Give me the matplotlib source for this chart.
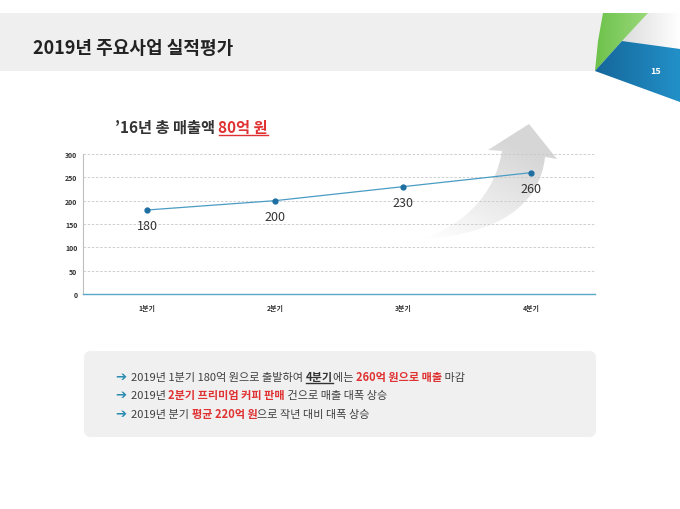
import matplotlib
matplotlib.use("Agg")
import matplotlib.pyplot as plt
import numpy as np
from matplotlib.patches import Polygon, FancyBboxPatch, PathPatch, Rectangle
from matplotlib.path import Path

plt.rcParams["font.family"] = ["Noto Sans CJK KR", "DejaVu Sans"]

quarters = ["1분기", "2분기", "3분기", "4분기"]
sales = [180, 200, 230, 260]
y_ticks = [0, 50, 100, 150, 200, 250, 300]

title = "2019년 주요사업 실적평가"
page_no = "15"

# (text, color, bold, underline)
chart_title = [("’16년 총 매출액 ", "#333333", True, False),
               ("80억 원", "#e03232", True, True)]
notes = [
    [("2019년 1분기 180억 원으로 출발하여 ", "#404040", False, False),
     ("4분기", "#333333", True, True),
     ("에는 ", "#404040", False, False),
     ("260억 원으로 매출", "#e03232", True, False),
     (" 마감", "#404040", False, False)],
    [("2019년 ", "#404040", False, False),
     ("2분기 프리미엄 커피 판매", "#e03232", True, False),
     (" 건으로 매출 대폭 상승", "#404040", False, False)],
    [("2019년 분기 ", "#404040", False, False),
     ("평균 220억 원", "#e03232", True, False),
     ("으로 작년 대비 대폭 상승", "#404040", False, False)],
]

fig = plt.figure(figsize=(6.8, 5.1), dpi=100)
bg = fig.add_axes([0, 0, 1, 1], zorder=0)
bg.set_xlim(0, 680)
bg.set_ylim(510, 0)
bg.set_axis_off()
renderer = fig.canvas.get_renderer()


def gradient_patch(ax, verts, c1, c2, direction="h", zorder=1):
    patch = Polygon(verts, closed=True, facecolor="none", edgecolor="none")
    ax.add_patch(patch)
    xs = [v[0] for v in verts]
    ys = [v[1] for v in verts]
    c1 = np.array(matplotlib.colors.to_rgba(c1))
    c2 = np.array(matplotlib.colors.to_rgba(c2))
    t = np.linspace(0, 1, 128)
    if direction == "h":
        img = (c1[None, :] * (1 - t)[:, None] + c2[None, :] * t[:, None])[None, :, :]
    else:
        img = (c1[None, :] * (1 - t)[:, None] + c2[None, :] * t[:, None])[:, None, :]
    im = ax.imshow(img, extent=(min(xs), max(xs), max(ys), min(ys)),
                   aspect="auto", zorder=zorder, interpolation="bilinear")
    im.set_clip_path(patch)


def draw_runs(ax, x, y, runs, size):
    for text, color, bold, underline in runs:
        t = ax.text(x, y, text, fontsize=size, color=color,
                    fontweight="bold" if bold else "normal",
                    va="baseline", ha="left", zorder=5)
        bb = t.get_window_extent(renderer)
        if underline:
            w = len(text.rstrip()) / max(len(text), 1)
            ax.plot([x, x + bb.width * w], [y + 2.5, y + 2.5], color=color,
                    lw=1.0, zorder=5)
        x += bb.width
    return x


# header band
bg.add_patch(Rectangle((0, 14), 680, 58, facecolor="#efefef", edgecolor="none", zorder=1))
bg.text(33, 49, title, fontsize=13, fontweight="bold", color="#222222",
        va="center", ha="left", zorder=5)

# corner decoration
gradient_patch(bg, [(648, 14), (680, 14), (680, 50), (622, 42)], "#dcdcdc", "#ffffff", zorder=2)
gradient_patch(bg, [(603, 14), (648, 14), (622, 42), (595, 72), (598, 42)],
               "#6cc24a", "#9ad87a", zorder=3)
gradient_patch(bg, [(595, 72), (622, 42), (680, 50), (680, 103)],
               "#15679a", "#2290c8", zorder=4)
bg.text(656, 71, page_no, fontsize=6.5, fontweight="bold", color="white",
        ha="center", va="center", zorder=6)

# curved gray arrow behind the chart
arrow_verts = [(423, 240), (465, 225), (495, 195), (502, 152),
               (488, 151), (529, 125), (557, 160),
               (545, 158), (540, 205), (500, 235), (423, 240)]
arrow_codes = [Path.MOVETO, Path.CURVE4, Path.CURVE4, Path.CURVE4,
               Path.LINETO, Path.LINETO, Path.LINETO,
               Path.LINETO, Path.CURVE4, Path.CURVE4, Path.CURVE4]
arrow_patch = PathPatch(Path(arrow_verts, arrow_codes), facecolor="none", edgecolor="none")
bg.add_patch(arrow_patch)
gx = np.linspace(0, 1, 128)
gy = np.linspace(0, 1, 128)
GX, GY = np.meshgrid(gx, gy)
shade = np.clip(0.45 * GX + 0.85 * (1 - GY), 0, 1)
img = np.ones((128, 128, 4))
img[..., :3] = 0.84
img[..., 3] = shade
im = bg.imshow(img, extent=(423, 557, 240, 125), aspect="auto", zorder=2,
               interpolation="bilinear")
im.set_clip_path(arrow_patch)

# chart title
draw_runs(bg, 115, 133, chart_title, 11)

# line chart
ax = fig.add_axes([83 / 680, 1 - 295 / 510, 512 / 680, 140 / 510], zorder=3)
ax.patch.set_alpha(0)
x = np.arange(len(quarters))
ax.plot(x, sales, color="#4a9cc4", lw=0.9, marker="o", markersize=3.5,
        markerfacecolor="#1f6fa3", markeredgecolor="#1f6fa3", zorder=4)
for xi, v in zip(x, sales):
    ax.annotate(str(v), (xi, v), xytext=(0, -11.5), textcoords="offset points",
                ha="center", va="center", fontsize=9, color="#333333")
ax.set_xlim(-0.5, len(quarters) - 0.5)
ax.set_ylim(0, 300)
ax.set_yticks(y_ticks)
ax.set_xticks(x)
ax.set_xticklabels(quarters)
ax.tick_params(axis="both", length=0, labelsize=5, labelcolor="#333333", pad=4)
ax.tick_params(axis="x", pad=7)
ax.grid(axis="y", color="#c8c8c8", lw=0.6, ls=(0, (3, 2)))
ax.set_axisbelow(True)
for side in ["top", "right"]:
    ax.spines[side].set_visible(False)
ax.spines["left"].set_color("#bfbfbf")
ax.spines["left"].set_linewidth(0.8)
ax.spines["bottom"].set_color("#5aa7c8")
ax.spines["bottom"].set_linewidth(1.0)
for lab in ax.get_xticklabels() + ax.get_yticklabels():
    lab.set_fontweight("bold")

# notes box
bg.add_patch(FancyBboxPatch((84, 352), 512, 86, boxstyle="round,pad=0,rounding_size=7",
                            facecolor="#f0f0f0", edgecolor="none", zorder=1))
for i, runs in enumerate(notes):
    yy = 381 + i * 18.5
    bg.text(115, yy, "➔", fontsize=9.5, color="#2a8cb0", family="DejaVu Sans",
            fontweight="bold", va="baseline", ha="left", zorder=5)
    draw_runs(bg, 131, yy, runs, 8)

fig.savefig("out.png", dpi=100)
